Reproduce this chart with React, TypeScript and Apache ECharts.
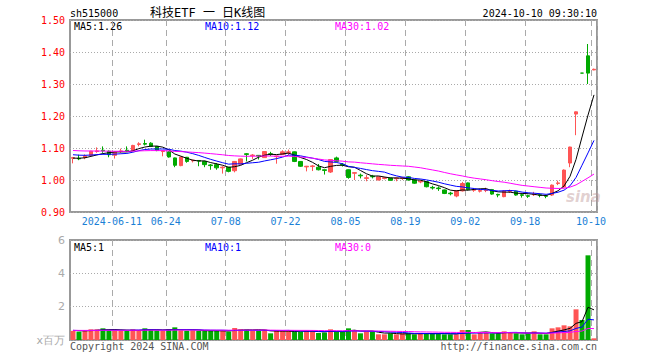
import React, { useEffect, useRef } from 'react';
import * as echarts from 'echarts';

const dates = [
  '05-30', '05-31',
  '06-03', '06-04', '06-05', '06-06', '06-07',
  '06-11', '06-12', '06-13', '06-14',
  '06-17', '06-18', '06-19', '06-20', '06-21',
  '06-24', '06-25', '06-26', '06-27', '06-28',
  '07-01', '07-02', '07-03', '07-04', '07-05',
  '07-08', '07-09', '07-10', '07-11', '07-12',
  '07-15', '07-16', '07-17', '07-18', '07-19',
  '07-22', '07-23', '07-24', '07-25', '07-26',
  '07-29', '07-30', '07-31', '08-01', '08-02',
  '08-05', '08-06', '08-07', '08-08', '08-09',
  '08-12', '08-13', '08-14', '08-15', '08-16',
  '08-19', '08-20', '08-21', '08-22', '08-23',
  '08-26', '08-27', '08-28', '08-29', '08-30',
  '09-02', '09-03', '09-04', '09-05', '09-06',
  '09-09', '09-10', '09-11', '09-12', '09-13',
  '09-18', '09-19', '09-20',
  '09-23', '09-24', '09-25', '09-26', '09-27',
  '09-30',
  '10-08', '10-09', '10-10',
];

const opens = [
  1.068, 1.068, 1.070, 1.077, 1.089, 1.093, 1.090, 1.077, 1.089, 1.093,
  1.092, 1.111, 1.114, 1.115, 1.105, 1.089, 1.088, 1.069, 1.045, 1.071,
  1.060, 1.061, 1.058, 1.047, 1.048, 1.038, 1.040, 1.029, 1.050, 1.082,
  1.076, 1.077, 1.070, 1.082, 1.073, 1.080, 1.086, 1.088, 1.058, 1.041,
  1.042, 1.040, 1.032, 1.025, 1.069, 1.049, 1.032, 1.021, 1.015, 1.005,
  1.012, 1.000, 1.005, 1.006, 1.004, 1.005, 1.010, 1.000, 0.994, 0.995,
  0.977, 0.975, 0.969, 0.959, 0.950, 0.966, 0.991, 0.968, 0.965, 0.967,
  0.970, 0.955, 0.948, 0.964, 0.965, 0.954, 0.951, 0.954, 0.954, 0.951,
  0.953, 0.989, 0.978, 1.053, 1.206, 1.334, 1.388, 1.344,
];
const closes = [
  1.070, 1.066, 1.075, 1.090, 1.091, 1.091, 1.079, 1.087, 1.091, 1.091,
  1.108, 1.113, 1.112, 1.105, 1.092, 1.091, 1.072, 1.046, 1.072, 1.058,
  1.062, 1.059, 1.048, 1.045, 1.038, 1.040, 1.027, 1.058, 1.066, 1.080,
  1.078, 1.075, 1.089, 1.080, 1.075, 1.088, 1.088, 1.058, 1.043, 1.043,
  1.044, 1.032, 1.030, 1.064, 1.058, 1.047, 1.008, 1.023, 1.013, 1.007,
  1.010, 1.010, 1.007, 0.999, 1.006, 1.007, 1.000, 0.990, 0.996, 0.979,
  0.975, 0.973, 0.958, 0.957, 0.967, 0.989, 0.970, 0.970, 0.967, 0.969,
  0.956, 0.953, 0.966, 0.966, 0.953, 0.952, 0.949, 0.956, 0.952, 0.949,
  0.984, 0.991, 1.031, 1.103, 1.213, 1.334, 1.334, 1.346,
];
const lows = [
  1.052, 1.062, 1.065, 1.076, 1.085, 1.085, 1.071, 1.067, 1.085, 1.088,
  1.090, 1.105, 1.108, 1.103, 1.090, 1.074, 1.070, 1.040, 1.043, 1.054,
  1.055, 1.043, 1.040, 1.032, 1.032, 1.020, 1.024, 1.024, 1.049, 1.058,
  1.066, 1.064, 1.069, 1.075, 1.051, 1.079, 1.077, 1.056, 1.041, 1.027,
  1.028, 1.030, 1.017, 1.022, 1.055, 1.042, 1.004, 1.000, 1.005, 0.996,
  1.005, 0.999, 1.002, 0.998, 0.996, 1.000, 0.998, 0.988, 0.990, 0.977,
  0.970, 0.966, 0.956, 0.952, 0.946, 0.964, 0.968, 0.963, 0.961, 0.962,
  0.954, 0.946, 0.946, 0.960, 0.951, 0.945, 0.944, 0.950, 0.946, 0.943,
  0.950, 0.984, 0.976, 1.040, 1.140, 1.334, 1.300, 1.343,
];
const highs = [
  1.072, 1.079, 1.080, 1.091, 1.102, 1.105, 1.092, 1.088, 1.098, 1.105,
  1.110, 1.118, 1.126, 1.118, 1.106, 1.093, 1.090, 1.070, 1.073, 1.072,
  1.063, 1.062, 1.060, 1.050, 1.053, 1.043, 1.041, 1.059, 1.067, 1.084,
  1.081, 1.078, 1.090, 1.088, 1.076, 1.093, 1.095, 1.089, 1.059, 1.044,
  1.047, 1.050, 1.033, 1.065, 1.073, 1.053, 1.033, 1.025, 1.020, 1.016,
  1.016, 1.011, 1.010, 1.007, 1.008, 1.010, 1.012, 1.002, 0.999, 0.996,
  0.982, 0.980, 0.970, 0.963, 0.968, 0.994, 0.992, 0.975, 0.972, 0.976,
  0.972, 0.957, 0.967, 0.970, 0.966, 0.956, 0.954, 0.963, 0.956, 0.952,
  0.986, 0.998, 1.033, 1.104, 1.214, 1.334, 1.425, 1.348,
];
// volume in millions
const volumes = [
  0.55, 0.50, 0.55, 0.64, 0.64, 0.70, 0.58, 0.58, 0.55, 0.55,
  0.64, 0.55, 0.70, 0.64, 0.58, 0.55, 0.64, 0.76, 0.58, 0.55,
  0.58, 0.55, 0.55, 0.55, 0.55, 0.55, 0.50, 0.72, 0.64, 0.62,
  0.55, 0.55, 0.62, 0.40, 0.55, 0.55, 0.55, 0.50, 0.50, 0.55,
  0.55, 0.42, 0.45, 0.64, 0.50, 0.50, 0.70, 0.60, 0.40, 0.50,
  0.50, 0.34, 0.34, 0.40, 0.34, 0.40, 0.40, 0.34, 0.40, 0.40,
  0.40, 0.40, 0.34, 0.34, 0.34, 0.60, 0.60, 0.34, 0.44, 0.44,
  0.40, 0.40, 0.52, 0.44, 0.40, 0.34, 0.40, 0.52, 0.34, 0.34,
  0.70, 0.76, 0.88, 0.82, 1.84, 1.20, 5.08, 0.10,
];

const tickDates = ['06-11', '06-24', '07-08', '07-22', '08-05', '08-19', '09-02', '09-18', '10-10'];
const tickLabels = ['2024-06-11', '06-24', '07-08', '07-22', '08-05', '08-19', '09-02', '09-18', '10-10'];

// moving average periods and the levels before the first visible day
const maPeriods = [5, 10, 30];
const priceMaSeeds = [1.068, 1.080, 1.093];
const volMaSeeds = [0.58, 0.58, 0.58];
const maColors = ['#000000', '#0000ff', '#ff00ff'];

const priceMaLabels = ['MA5:1.26', 'MA10:1.12', 'MA30:1.02'];
const volMaLabels = ['MA5:1', 'MA10:1', 'MA30:0'];

const UP = '#ff5555';
const DOWN = '#00aa00';
const MONO = '"DejaVu Sans Mono", monospace';

function movingAvg(arr: number[], n: number, seed: number) {
  return arr.map((_, i) => {
    let s = 0;
    for (let k = i - n + 1; k <= i; k++) s += k >= 0 ? arr[k] : seed;
    return +(s / n).toFixed(4);
  });
}

export default function App() {
  const ref = useRef<HTMLDivElement>(null);
  useEffect(() => {
    if (!ref.current) return;
    const chart = echarts.init(ref.current, undefined, { renderer: 'svg' });
    const isUp = (i: number) => closes[i] > opens[i];
    const candleData = dates.map((_, i) => {
      const col = isUp(i) ? UP : DOWN;
      return {
        value: [opens[i], closes[i], lows[i], highs[i]],
        itemStyle: { color: col, color0: col, borderColor: col, borderColor0: col, borderWidth: 1 },
      };
    });
    const volData = volumes.map((v, i) => ({ value: v, itemStyle: { color: isUp(i) ? UP : DOWN } }));
    const isTick = (_i: number, v: string) => tickDates.indexOf(v) >= 0;
    const xAxisBase = (gi: number, showLabel: boolean) => ({
      type: 'category',
      gridIndex: gi,
      data: dates,
      boundaryGap: true,
      axisLine: { show: false },
      axisTick: { show: false },
      axisLabel: {
        show: showLabel,
        interval: isTick,
        formatter: (v: string) => tickLabels[tickDates.indexOf(v)] ?? v,
        color: '#1a7fd6',
        fontFamily: MONO,
        fontSize: 10,
        margin: 4,
        padding: [0, 6, 0, 0],
      },
      splitLine: { show: true, interval: isTick, lineStyle: { color: '#aaaaaa', width: 1, type: [6, 4] } },
    });

    const priceMaSeries = maPeriods.map((p, k) => ({
      type: 'line',
      xAxisIndex: 0,
      yAxisIndex: 0,
      data: movingAvg(closes, p, priceMaSeeds[k]),
      symbol: 'none',
      lineStyle: { color: maColors[k], width: 1 },
      z: 3,
    }));
    const volMaSeries = maPeriods.map((p, k) => ({
      type: 'line',
      xAxisIndex: 1,
      yAxisIndex: 1,
      data: movingAvg(volumes, p, volMaSeeds[k]),
      symbol: 'none',
      lineStyle: { color: maColors[k], width: 1 },
      z: 3,
    }));

    const labelX = [74, 205, 335];
    const texts: any[] = [
      { type: 'text', x: 70, y: 13, style: { text: 'sh515000', font: `10px ${MONO}`, fill: '#000', verticalAlign: 'middle' } },
      { type: 'text', x: 150, y: 13, style: { text: '科技ETF 一 日K线图', font: '12px "DejaVu Sans Mono", "Noto Sans CJK SC"', fill: '#000', verticalAlign: 'middle' } },
      { type: 'text', x: 597, y: 13, style: { text: '2024-10-10 09:30:10', font: `10px ${MONO}`, fill: '#000', align: 'right', verticalAlign: 'middle' } },
      { type: 'text', x: 70, y: 346, style: { text: 'Copyright 2024 SINA.COM', font: `10px ${MONO}`, fill: '#555', verticalAlign: 'middle' } },
      { type: 'text', x: 597, y: 346, style: { text: 'http://finance.sina.com.cn', font: `10px ${MONO}`, fill: '#555', align: 'right', verticalAlign: 'middle' } },
      { type: 'text', x: 566, y: 197, z: 1, style: { text: 'sina', font: 'italic bold 15px "DejaVu Sans"', fill: 'rgba(190,150,150,0.45)', verticalAlign: 'middle' } },
    ];
    priceMaLabels.forEach((t, k) => texts.push({ type: 'text', x: labelX[k], y: 26, style: { text: t, font: `10px ${MONO}`, fill: maColors[k], verticalAlign: 'middle' } }));
    volMaLabels.forEach((t, k) => texts.push({ type: 'text', x: labelX[k], y: 247, style: { text: t, font: `10px ${MONO}`, fill: maColors[k], verticalAlign: 'middle' } }));

    chart.setOption({
      animation: false,
      backgroundColor: '#ffffff',
      grid: [
        { left: 70, top: 20, width: 527, height: 192, show: true, borderColor: '#999999', borderWidth: 2 },
        { left: 70, top: 240, width: 527, height: 100, show: true, borderColor: '#999999', borderWidth: 2 },
      ],
      xAxis: [xAxisBase(0, true), xAxisBase(1, false)],
      yAxis: [
        {
          type: 'value', gridIndex: 0, min: 0.9, max: 1.5, interval: 0.1,
          axisLine: { show: false }, axisTick: { show: false },
          axisLabel: { color: '#ff0000', fontFamily: MONO, fontSize: 10, margin: 5, formatter: (v: number) => v.toFixed(2) },
          splitLine: { show: true, lineStyle: { color: '#aaaaaa', width: 1, type: [1, 2] } },
        },
        {
          type: 'value', gridIndex: 1, min: 0, max: 6, interval: 2,
          axisLine: { show: false }, axisTick: { show: false },
          axisLabel: {
            color: '#aaaaaa', fontFamily: '"DejaVu Sans"', fontSize: 11, margin: 5,
            formatter: (v: number) => (v === 0 ? 'x百万' : String(v)),
          },
          splitLine: { show: true, lineStyle: { color: '#aaaaaa', width: 1, type: [1, 2] } },
        },
      ],
      series: [
        { type: 'candlestick', xAxisIndex: 0, yAxisIndex: 0, data: candleData, barWidth: 4, z: 2 },
        ...priceMaSeries,
        { type: 'bar', xAxisIndex: 1, yAxisIndex: 1, data: volData, barWidth: 5, z: 2 },
        ...volMaSeries,
      ],
      graphic: texts,
    });
    return () => chart.dispose();
  }, []);
  return <div ref={ref} style={{ position: 'absolute', left: 0, top: 0, width: 660, height: 360 }} />;
}
